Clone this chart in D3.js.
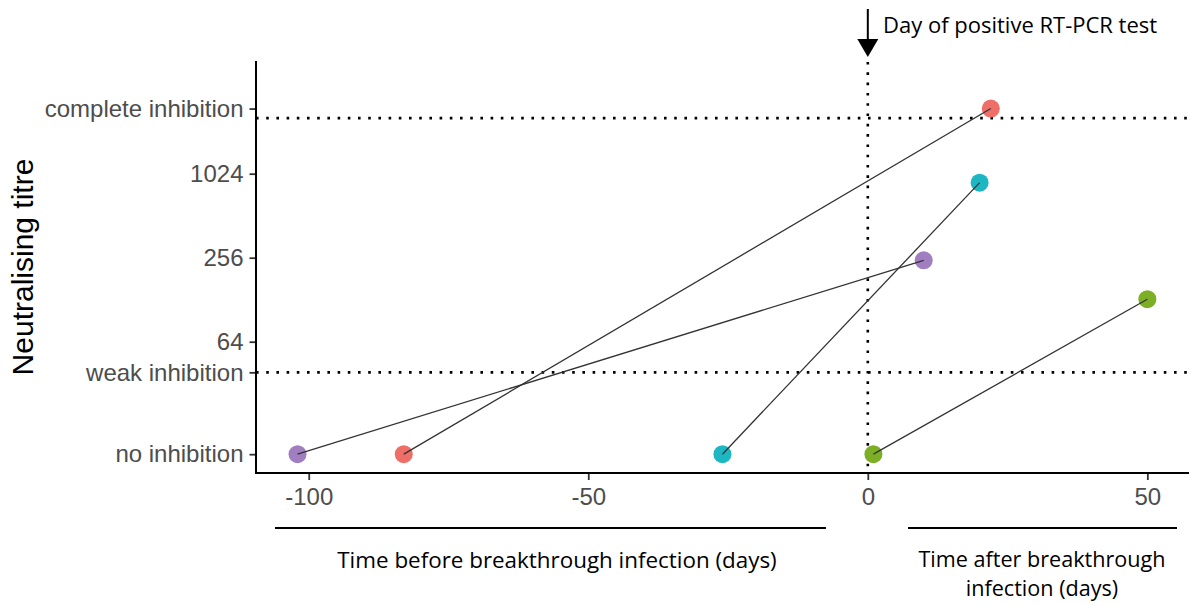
<!DOCTYPE html>
<html><head><meta charset="utf-8">
<script src="https://cdn.jsdelivr.net/npm/d3@7"></script>
<style>body{margin:0;background:#fff}svg{display:block}</style>
</head><body>
<svg id="c" width="1192" height="606"></svg>
<script>
// ---- data ----
const subjects = ["A","B","C","D"];
const colors = ["#A07EC0","#EE6F67","#1DB6C3","#7CAE26"];
const daysBefore = [-102, -83, -26, 1];
const titreBefore = [10, 10, 10, 10];
const daysAfter = [10, 22, 20, 50];
const titreAfter = [245, 3000, 883, 129];
const xTicks = [-100, -50, 0, 50];
const yTickValues = [10, 38.6, 64, 256, 1024, 3000];
const yTickLabels = ["no inhibition","weak inhibition","64","256","1024","complete inhibition"];
const thresholdLines = [38.6, 2560];

const svg = d3.select("#c");
const x = d3.scaleLinear().domain([-109.43, 57.45]).range([256, 1189]);
const y = d3.scaleLog().base(2).domain([7.33, 6576]).range([473, 61]);

// threshold dotted lines
svg.selectAll("line.thr").data(thresholdLines).join("line")
  .attr("x1", x.range()[0]).attr("x2", x.range()[1])
  .attr("y1", d => y(d)).attr("y2", d => y(d))
  .attr("stroke", "#000").attr("stroke-width", 2.6).attr("stroke-dasharray", "2.6 7.6");
// vertical dotted line at day 0
svg.append("line").attr("x1", x(0)).attr("x2", x(0)).attr("y1", 62).attr("y2", y.range()[0])
  .attr("stroke", "#000").attr("stroke-width", 2.6).attr("stroke-dasharray", "2.6 7.7");

// axes
const tickFont = "Arimo, 'Liberation Sans', Arial, Helvetica, sans-serif";
const yAxis = d3.axisLeft(y).tickValues(yTickValues).tickFormat((d,i) => yTickLabels[i]).tickSize(6.5).tickPadding(6);
const gy = svg.append("g").attr("transform", `translate(${x.range()[0]},0)`).call(yAxis);
const xAxis = d3.axisBottom(x).tickValues(xTicks).tickFormat(d => String(d)).tickSize(7).tickPadding(7);
const gx = svg.append("g").attr("transform", `translate(0,${y.range()[0]})`).call(xAxis);
[gx, gy].forEach(g => {
  g.select(".domain").remove();
  g.selectAll(".tick line").attr("stroke", "#333").attr("stroke-width", 1.8);
  g.selectAll(".tick text").attr("fill", "#4D4D4D").style("font-family", tickFont).style("font-size", "24px");
});
gx.selectAll(".tick text").attr("dy", "0.75em");
// axis lines
svg.append("line").attr("x1", x.range()[0]).attr("x2", x.range()[0]).attr("y1", y.range()[1]).attr("y2", y.range()[0] + 1)
  .attr("stroke", "#000").attr("stroke-width", 2);
svg.append("line").attr("x1", x.range()[0] - 1).attr("x2", x.range()[1]).attr("y1", y.range()[0]).attr("y2", y.range()[0])
  .attr("stroke", "#000").attr("stroke-width", 2);

// segments and points
const rows = subjects.map((s,i) => ({s, c: colors[i], x0: daysBefore[i], y0: titreBefore[i], x1: daysAfter[i], y1: titreAfter[i]}));
const pts = rows.flatMap(r => [{x: r.x0, y: r.y0, c: r.c}, {x: r.x1, y: r.y1, c: r.c}]);
svg.selectAll("circle.pt").data(pts).join("circle")
  .attr("cx", d => x(d.x)).attr("cy", d => y(d.y)).attr("r", 9).attr("fill", d => d.c);
svg.selectAll("line.seg").data(rows).join("line")
  .attr("x1", d => x(d.x0)).attr("y1", d => y(d.y0)).attr("x2", d => x(d.x1)).attr("y2", d => y(d.y1))
  .attr("stroke", "#333").attr("stroke-width", 1.3);

// y title
svg.append("text").attr("transform", "translate(33,267) rotate(-90)").attr("text-anchor", "middle")
  .style("font-family", tickFont).style("font-size", "30px").attr("fill", "#000")
  .text("Neutralising titre");

// annotation arrow
svg.append("line").attr("x1", x(0)).attr("x2", x(0)).attr("y1", 9).attr("y2", 42).attr("stroke", "#000").attr("stroke-width", 2);
svg.append("path").attr("d", `M${x(0)-10.5},39 L${x(0)+10.5},39 L${x(0)},57 Z`).attr("fill", "#000");
const annFont = "'Open Sans', 'Noto Sans', sans-serif";
svg.append("text").attr("x", 883).attr("y", 33).style("font-family", annFont).style("font-size", "22px").attr("fill", "#000")
  .text("Day of positive RT-PCR test");

// bottom brackets
svg.append("line").attr("x1", 275).attr("x2", 826).attr("y1", 528).attr("y2", 528).attr("stroke", "#000").attr("stroke-width", 2);
svg.append("line").attr("x1", 908).attr("x2", 1177).attr("y1", 528).attr("y2", 528).attr("stroke", "#000").attr("stroke-width", 2);
svg.append("text").attr("x", 557).attr("y", 568).attr("text-anchor", "middle").style("font-family", annFont).style("font-size", "22.4px")
  .text("Time before breakthrough infection (days)");
const after = svg.append("text").attr("x", 1042).attr("y", 566.5).attr("text-anchor", "middle")
  .style("font-family", annFont).style("font-size", "21.6px");
after.append("tspan").attr("x", 1042).attr("y", 566.5).text("Time after breakthrough");
after.append("tspan").attr("x", 1042).attr("y", 596).text("infection (days)");
</script>
</body></html>
